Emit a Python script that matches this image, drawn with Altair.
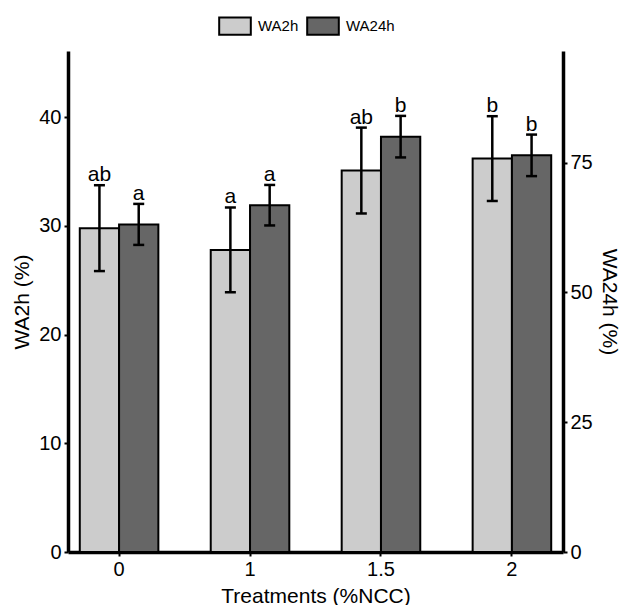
import altair as alt
import pandas as pd

treatments = ["0", "1", "1.5", "2"]
series = ["WA2h", "WA24h"]

wa2h_mean = [29.8, 27.8, 35.1, 36.2]
wa2h_sd = [3.95, 3.9, 3.95, 3.9]
wa2h_letters = ["ab", "a", "ab", "b"]

wa24h_mean = [63.1, 66.8, 80.0, 76.4]
wa24h_sd = [3.95, 3.9, 4.0, 4.0]
wa24h_letters = ["a", "a", "b", "b"]

left_ticks = [0, 10, 20, 30, 40]
right_ticks = [0, 25, 50, 75]

def frame(name, means, sds, letters):
    return pd.DataFrame({
        "treatment": treatments,
        "series": name,
        "value": means,
        "sd": sds,
        "lo": [m - s for m, s in zip(means, sds)],
        "hi": [m + s for m, s in zip(means, sds)],
        "letter": letters,
    })

df_l = frame("WA2h", wa2h_mean, wa2h_sd, wa2h_letters)
df_r = frame("WA24h", wa24h_mean, wa24h_sd, wa24h_letters)

x_enc = alt.X("treatment:N", sort=treatments,
              scale=alt.Scale(paddingInner=0.4, paddingOuter=0.09),
              axis=alt.Axis(title="Treatments (%NCC)", labelAngle=0))
xo_enc = alt.XOffset("series:N", sort=series, scale=alt.Scale(domain=series))
color_enc = alt.Color(
    "series:N",
    scale=alt.Scale(domain=series, range=["#CCCCCC", "#666666"]),
    legend=alt.Legend(
        title=None, orient="none", legendX=150, legendY=-42,
        direction="horizontal",
        symbolType="M-1,-0.55L1,-0.55L1,0.55L-1,0.55Z",
        symbolSize=1000, symbolStrokeColor="black", symbolStrokeWidth=2,
        symbolOpacity=1, labelFontSize=15, labelColor="black",
        labelOffset=6, columnPadding=4,
    ),
)

def side(df, domain, ticks, title, orient):
    y_axis = alt.Axis(title=title, orient=orient, values=ticks)
    ysc = alt.Scale(domain=domain, nice=False, zero=True)
    base = alt.Chart(df)
    bars = base.mark_bar(stroke="black", strokeWidth=2, opacity=1).encode(
        x=x_enc, xOffset=xo_enc,
        y=alt.Y("value:Q", scale=ysc, axis=y_axis),
        color=color_enc,
    )
    rule = base.mark_rule(color="black", strokeWidth=2.5).encode(
        x=x_enc, xOffset=xo_enc,
        y=alt.Y("lo:Q", scale=ysc), y2="hi:Q",
    )
    cap_hi = base.mark_tick(color="black", thickness=2.5, size=11, opacity=1).encode(
        x=x_enc, xOffset=xo_enc, y=alt.Y("hi:Q", scale=ysc),
    )
    cap_lo = base.mark_tick(color="black", thickness=2.5, size=11, opacity=1).encode(
        x=x_enc, xOffset=xo_enc, y=alt.Y("lo:Q", scale=ysc),
    )
    txt = base.mark_text(fontSize=21, baseline="alphabetic", dy=-4, color="black").encode(
        x=x_enc, xOffset=xo_enc, y=alt.Y("hi:Q", scale=ysc), text="letter:N",
    )
    return alt.layer(bars, rule, cap_hi, cap_lo, txt)

left = side(df_l, [0, 46.1], left_ticks, "WA2h (%)", "left")
right = side(df_r, [0, 96.5], right_ticks, "WA24h (%)", "right")

chart = alt.layer(left, right).resolve_scale(y="independent").properties(
    width=495, height=501,
    autosize=alt.AutoSizeParams(type="none"),
    padding={"left": 68, "top": 51, "right": 62, "bottom": 53},
).configure(font="Liberation Sans").configure_view(stroke=None).configure_axis(
    grid=False, domainColor="black", domainWidth=3.5,
    tickColor="black", tickWidth=2, tickSize=4,
    labelColor="black", labelFontSize=20, labelPadding=3,
    titleColor="black", titleFontSize=21, titleFontWeight="normal",
    titlePadding=6,
)

chart.save("out.html", embed_options={"renderer": "svg", "actions": False})
